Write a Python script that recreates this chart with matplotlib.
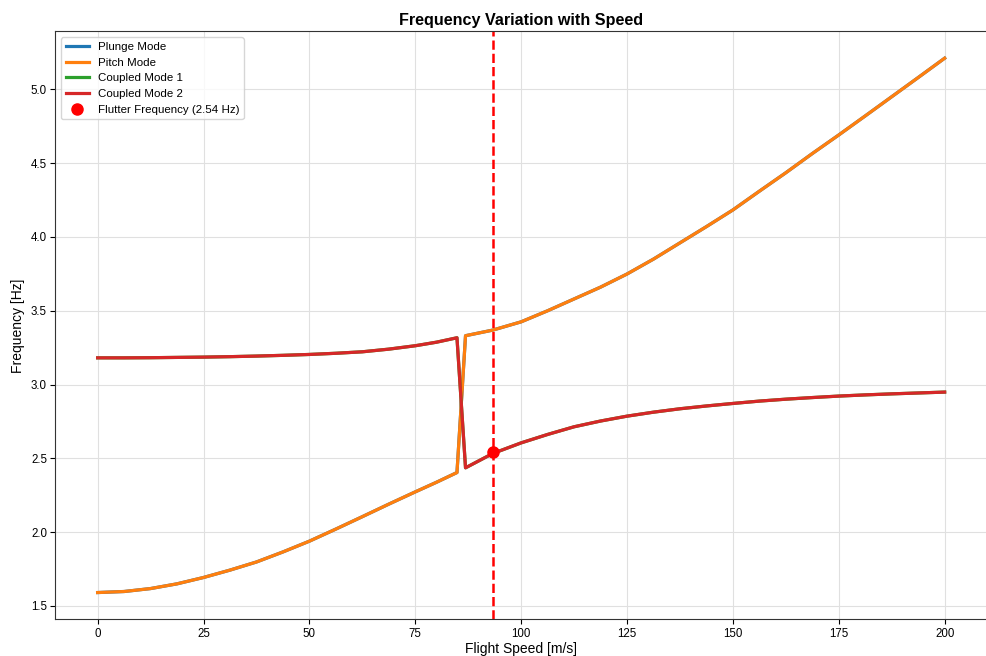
import numpy as np
import matplotlib.pyplot as plt

plt.rcParams['font.family'] = ['Liberation Sans', 'DejaVu Sans']

# flight speed samples [m/s]
speed = [0, 6.25, 12.5, 18.75, 25, 31.25, 37.5, 43.75, 50, 56.25, 62.5,
         68.75, 75, 80, 84.85,
         86.87, 93.3, 100, 106.25, 112.5, 118.75, 125, 131.25, 137.5, 143.75,
         150, 156.25, 162.5, 168.75, 175, 181.25, 187.5, 193.75, 200]

# mode frequencies [Hz]
pitch_mode = [1.591, 1.598, 1.618, 1.650, 1.693, 1.743, 1.798, 1.866, 1.939,
              2.021, 2.105, 2.190, 2.273, 2.338, 2.404,
              3.331, 3.369, 3.425, 3.500, 3.580, 3.660, 3.749, 3.850, 3.960,
              4.070, 4.183, 4.310, 4.435, 4.565, 4.691, 4.820, 4.950, 5.080,
              5.211]
coupled_mode2 = [3.181, 3.181, 3.182, 3.184, 3.186, 3.189, 3.193, 3.198, 3.204,
                 3.212, 3.222, 3.240, 3.263, 3.287, 3.317,
                 2.436, 2.533, 2.605, 2.662, 2.714, 2.753, 2.786, 2.813, 2.836,
                 2.855, 2.872, 2.888, 2.901, 2.912, 2.922, 2.930, 2.937, 2.943,
                 2.949]
# the other two modes lie exactly under the visible ones
plunge_mode = list(pitch_mode)
coupled_mode1 = list(coupled_mode2)

flutter_speed = 93.3
flutter_freq = 2.54

fig, ax = plt.subplots(figsize=(9.87, 6.56), dpi=100)

ax.plot(speed, plunge_mode, color='#1f77b4', lw=2.3, label='Plunge Mode')
ax.plot(speed, pitch_mode, color='#ff7f0e', lw=2.3, label='Pitch Mode')
ax.plot(speed, coupled_mode1, color='#2ca02c', lw=2.3, label='Coupled Mode 1')
ax.plot(speed, coupled_mode2, color='#d62728', lw=2.3, label='Coupled Mode 2')

ax.axvline(flutter_speed, color='red', ls='--', lw=1.8)
ax.plot(flutter_speed, flutter_freq, 'o', color='red', ms=8,
        label='Flutter Frequency (%.2f Hz)' % flutter_freq)

ax.set_title('Frequency Variation with Speed', fontsize=11.6, fontweight='bold', pad=5)
ax.set_xlabel('Flight Speed [m/s]', fontsize=10, labelpad=2)
ax.set_ylabel('Frequency [Hz]', fontsize=10, labelpad=4)
ax.tick_params(labelsize=8.3, length=3.5, pad=2.5)
ax.grid(True, color='#e0e0e0', lw=0.8)
for s in ax.spines.values():
    s.set_color('#333333')

ax.legend(loc='upper left', fontsize=8.25)

plt.subplots_adjust(left=0.056, right=1.0, top=0.952, bottom=0.056)
plt.savefig('out.png')
